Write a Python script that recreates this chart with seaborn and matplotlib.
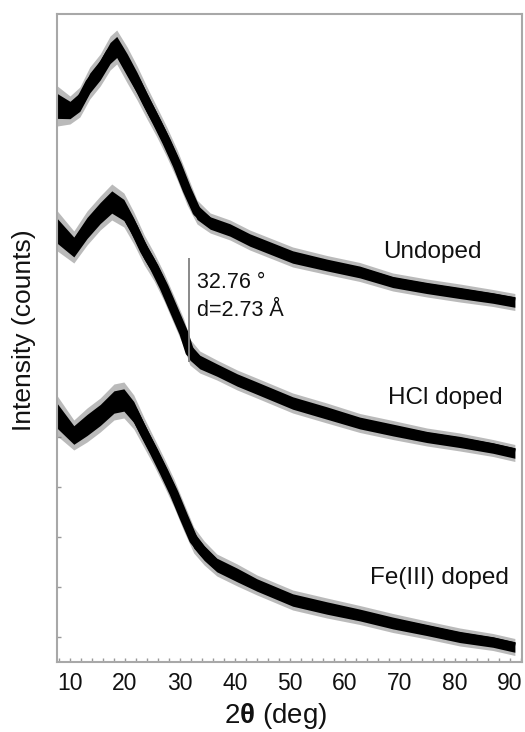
import matplotlib
matplotlib.use("Agg")
import matplotlib.pyplot as plt
from matplotlib.ticker import MultipleLocator, FixedLocator
import seaborn as sns
import pandas as pd

# ---- data ----
undoped_angle = [7.7, 10.0, 11.8, 13.6, 15.5, 17.3, 18.5, 20.4, 22.2, 24.0, 25.8, 27.6,
                 29.5, 31.3, 33.1, 35.5, 39.1, 42.7, 50.5, 56.7, 62.7, 68.7, 74.9,
                 80.9, 86.9, 90.9]
undoped_int = [556, 552, 560, 579, 592, 609, 615, 597, 579, 559, 540, 520,
               497, 472, 450, 439, 432, 422, 405, 397, 390, 380, 374,
               369, 364, 360]
undoped_noise = [20, 14, 15, 16, 16, 17, 17, 18, 17, 16, 15, 15,
                 15, 15, 12, 10, 10, 10, 10, 9.5, 9.5, 9, 9,
                 9, 8.5, 8.5]

hcl_angle = [7.7, 10.7, 13.1, 15.5, 17.6, 19.8, 21.6, 23.5, 25.3, 27.1, 28.9,
             30.7, 31.8, 33.6, 36.7, 40.4, 43.5, 50.5, 56.7, 62.7, 68.7, 74.9,
             80.9, 86.9, 90.9]
hcl_int = [431, 415, 434, 449, 460, 452, 434, 412, 395, 375, 352,
           329, 310, 300, 292, 282, 275, 259, 249, 239, 232, 225,
           220, 214, 209]
hcl_noise = [20, 16, 17, 17, 18, 17, 16, 15, 14, 14, 14,
             14, 13, 11, 10, 10, 10, 10, 10, 9.5, 9.5, 9,
             9, 8.5, 8.5]

fe_angle = [7.7, 10.7, 13.1, 15.5, 18.0, 19.8, 21.6, 23.5, 25.3, 27.1, 28.9,
            30.7, 32.5, 34.4, 36.7, 40.4, 44.0, 50.5, 56.7, 62.7, 68.7, 74.9,
            80.9, 86.9, 90.9]
fe_int = [246, 227, 237, 247, 260, 262, 250, 229, 210, 190, 169,
          145, 122, 109, 97, 87, 77, 62, 54, 47, 39, 32,
          25, 20, 15]
fe_noise = [20, 15, 17, 17, 18, 18, 17, 15, 14, 14, 14,
            14, 13, 12, 11, 11, 10, 10, 10, 9.5, 9.5, 9,
            9, 8.5, 8.5]

sample_names = ["Undoped", "HCl doped", "Fe(III) doped"]
label_angle = [66.9, 67.8, 64.5]
label_int = [410, 264, 84]

peak_angle = 31.6
peak_int_range = [300, 404]
peak_text = ["32.76 °", "d=2.73 Å"]
peak_text_angle = 33.1
peak_text_int = [380, 352]

x_ticks = [10, 20, 30, 40, 50, 60, 70, 80, 90]
y_ticks = [25, 75, 125, 175, 225]

df = pd.concat([
    pd.DataFrame({"angle": undoped_angle, "intensity": undoped_int,
                  "noise": undoped_noise, "sample": sample_names[0]}),
    pd.DataFrame({"angle": hcl_angle, "intensity": hcl_int,
                  "noise": hcl_noise, "sample": sample_names[1]}),
    pd.DataFrame({"angle": fe_angle, "intensity": fe_int,
                  "noise": fe_noise, "sample": sample_names[2]}),
], ignore_index=True)

# ---- style ----
sns.set_style("white")
plt.rcParams["font.family"] = ["Liberation Sans", "DejaVu Sans"]
plt.rcParams["mathtext.fontset"] = "custom"
plt.rcParams["mathtext.rm"] = "Liberation Sans"
plt.rcParams["mathtext.bf"] = "Liberation Sans:bold"

fig = plt.figure(figsize=(5.25, 7.32), dpi=100)
ax = fig.add_axes([57 / 525, 1 - 662 / 732, 465 / 525, 648 / 732])

# noise envelopes (outer grey fringe, inner dark band)
for name in sample_names:
    sub = df[df["sample"] == name]
    x = sub["angle"].to_numpy()
    y = sub["intensity"].to_numpy()
    n = sub["noise"].to_numpy()
    ax.fill_between(x, y - n, y + n, color="#767676", alpha=0.5, lw=0)
    ax.fill_between(x, y - 0.62 * n, y + 0.62 * n, color="black", lw=0)

# centre lines (give the band its width on the steep flanks)
sns.lineplot(data=df, x="angle", y="intensity", hue="sample", palette=["black"] * 3,
             estimator=None, sort=False, legend=False, lw=6.5, ax=ax,
             solid_capstyle="butt", solid_joinstyle="round")

ax.vlines(peak_angle, peak_int_range[0], peak_int_range[1], color="#808080", lw=1.3)
for t, yv in zip(peak_text, peak_text_int):
    ax.text(peak_text_angle, yv, t, fontsize=15.5, va="center", ha="left", color="#111111")

for name, xa, ya in zip(sample_names, label_angle, label_int):
    ax.text(xa, ya, name, fontsize=17.5, va="center", ha="left", color="#111111")

ax.set_xlim(7.64, 92.2)
ax.set_ylim(0, 648)
ax.xaxis.set_major_locator(FixedLocator(x_ticks))
ax.xaxis.set_minor_locator(MultipleLocator(2))
ax.yaxis.set_major_locator(FixedLocator(y_ticks))
ax.set_yticklabels([])
ax.tick_params(axis="x", which="both", direction="in", length=3, width=1,
               color="#9a9a9a", labelsize=16.5, pad=7, labelcolor="#111111", bottom=True)
ax.tick_params(axis="y", which="both", direction="in", length=3, width=1,
               color="#9a9a9a", left=True)
for s in ax.spines.values():
    s.set_color("#a8a8a8")
    s.set_linewidth(1.5)
ax.set_xlabel("")
ax.set_ylabel("")

fig.text(24 / 525, 1 - 330 / 732, "Intensity (counts)", rotation=90, fontsize=19,
         ha="center", va="center", color="#111111")
fig.text(276 / 525, 1 - 716 / 732, r"2$\mathbf{θ}$ (deg)", fontsize=20,
         ha="center", va="center", color="#111111")

fig.savefig("out.png", dpi=100)
